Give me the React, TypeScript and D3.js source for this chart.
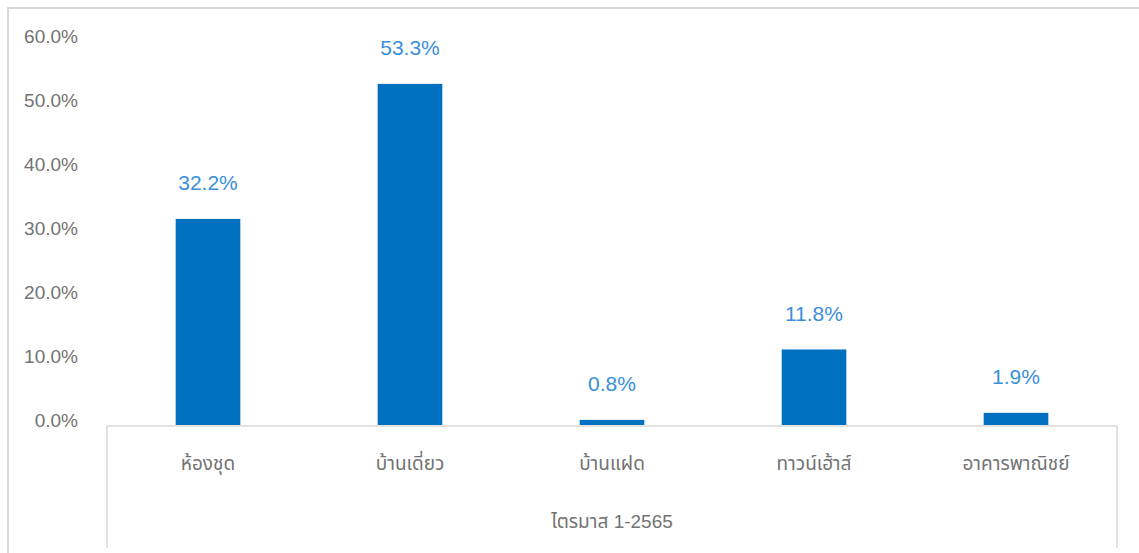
import React from 'react';
import * as d3 from 'd3';

const categories = ['ห้องชุด', 'บ้านเดี่ยว', 'บ้านแฝด', 'ทาวน์เฮ้าส์', 'อาคารพาณิชย์'];
const values = [32.2, 53.3, 0.8, 11.8, 1.9];
const yTicks = [0, 10, 20, 30, 40, 50, 60];
const groupLabel = 'ไตรมาส 1-2565';

const W = 1139;
const H = 553;
const font = '"Liberation Sans", "Noto Sans Thai", "Noto Sans", sans-serif';

const App: React.FC = () => {
  const left = 107;
  const right = 1117;
  const base = 426;

  const x = d3.scaleBand<string>().domain(categories).range([left, right]).paddingInner(0.68).paddingOuter(0.34);
  const y = d3.scaleLinear().domain([0, 60]).range([425, 41]);

  return (
    <svg width={W} height={H} style={{ position: 'absolute', left: 0, top: 0 }}>
      <rect x={0} y={0} width={W} height={H} fill="#fff" />
      {/* frame */}
      <path d={`M8,${H} V8 H${W}`} fill="none" stroke="#d9d9d9" strokeWidth={2} />

      {/* y tick labels */}
      {yTicks.map(t => (
        <text key={t} x={78} y={y(t) - 3} textAnchor="end" dominantBaseline="middle"
          fontFamily={font} fontSize={19} fill="#737373">
          {d3.format('.1f')(t)}%
        </text>
      ))}

      {/* bars */}
      {categories.map((c, i) => (
        <rect key={c} x={x(c)} y={y(values[i])} width={x.bandwidth()} height={y(0) - y(values[i])} fill="#0070C0" />
      ))}

      {/* data labels */}
      {categories.map((c, i) => (
        <text key={c} x={(x(c) ?? 0) + x.bandwidth() / 2} y={y(values[i]) - 34} textAnchor="middle"
          dominantBaseline="middle" fontFamily={font} fontSize={21} fill="#3A8FD9">
          {values[i].toFixed(1)}%
        </text>
      ))}

      {/* axis lines */}
      <path d={`M${left},${H - 5} V${base} H${right} V${H - 5}`} fill="none" stroke="#d9d9d9" strokeWidth={1.5} />

      {/* category labels */}
      {categories.map(c => (
        <text key={c} x={(x(c) ?? 0) + x.bandwidth() / 2} y={465} textAnchor="middle"
          dominantBaseline="middle" fontFamily={font} fontSize={19} fill="#737373">
          {c}
        </text>
      ))}

      <text x={(left + right) / 2} y={523} textAnchor="middle" dominantBaseline="middle"
        fontFamily={font} fontSize={19} fill="#737373">
        {groupLabel}
      </text>
    </svg>
  );
};

export default App;
